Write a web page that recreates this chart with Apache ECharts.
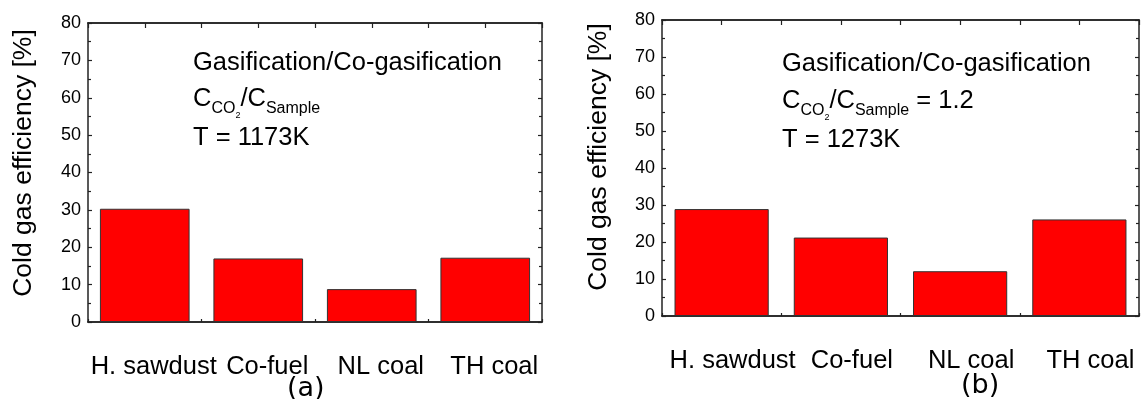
<!DOCTYPE html>
<html>
<head>
<meta charset="utf-8">
<script src="https://cdn.jsdelivr.net/npm/echarts@6/dist/echarts.min.js"></script>
<style>
html,body{margin:0;padding:0;background:#fff;}
#c{width:1141px;height:399px;}
</style>
</head>
<body>
<div id="c"></div>
<script>
const categories = ['H. sawdust', 'Co-fuel', 'NL coal', 'TH coal'];
const efficiencyA = [30.3, 17.0, 8.8, 17.2];
const efficiencyB = [28.9, 21.2, 12.1, 26.1];
const yMin = 0, yMax = 80, yInterval = 10;
const yTitle = 'Cold gas efficiency [%]';
const annA = ['Gasification/Co-gasification', '{c|C}{s|CO}{ss|2}{c|/C}{s|Sample}', 'T = 1173K'];
const annB = ['Gasification/Co-gasification', '{c|C}{s|CO}{ss|2}{c|/C}{s|Sample}{c| = 1.2}', 'T = 1273K'];
const panelLabels = ['(a)', '(b)'];

const FONT = 'Liberation Sans, Arial, sans-serif';
const AX = '#222';
const BIG = 25.5;
const grids = [
  {left: 88, top: 23, width: 454, height: 299},
  {left: 662, top: 20, width: 477, height: 296}
];

function xAxes(gi, padL) {
  const base = {type: 'category', data: categories, gridIndex: gi,
    axisLine: {show: true, lineStyle: {color: AX, width: 1.5}}, splitLine: {show: false}};
  return [
    Object.assign({}, base, {position: 'bottom',
      axisTick: {show: true, inside: true, alignWithLabel: true, length: 5, lineStyle: {color: AX, width: 1.2}},
      axisLabel: {show: true, interval: 0, hideOverlap: false, margin: 32, padding: [0, 0, 0, padL],
        color: '#000', fontSize: BIG, fontFamily: FONT}}),
    Object.assign({}, base, {position: 'bottom',
      axisTick: {show: true, inside: true, length: 3, lineStyle: {color: AX, width: 1.2}},
      axisLabel: {show: false}}),
    Object.assign({}, base, {position: 'top',
      axisTick: {show: true, inside: true, alignWithLabel: true, length: 5, lineStyle: {color: AX, width: 1.2}},
      axisLabel: {show: false}}),
    Object.assign({}, base, {position: 'top',
      axisTick: {show: true, inside: true, length: 5, lineStyle: {color: AX, width: 1.2}},
      axisLabel: {show: false}})
  ];
}
function yAxes(gi) {
  const base = {type: 'value', gridIndex: gi, min: yMin, max: yMax, interval: yInterval,
    axisLine: {show: true, lineStyle: {color: AX, width: 1.5}}, splitLine: {show: false},
    axisTick: {show: true, inside: true, length: 4, lineStyle: {color: AX, width: 1.2}},
    minorTick: {show: true, splitNumber: 2, length: 3, lineStyle: {color: AX, width: 1.2}}};
  return [
    Object.assign({}, base, {position: 'left',
      axisLabel: {show: true, color: '#000', fontSize: 18, fontFamily: FONT, margin: 7}}),
    Object.assign({}, base, {position: 'right', axisLabel: {show: false}})
  ];
}

const xs = xAxes(0, 18).concat(xAxes(1, 22));
const ys = yAxes(0).concat(yAxes(1));

const richStyles = {
  c: {fontSize: BIG, fontFamily: FONT, color: '#000', lineHeight: 32, verticalAlign: 'middle'},
  s: {fontSize: 16, fontFamily: FONT, color: '#000', lineHeight: 16, verticalAlign: 'bottom', padding: [0, 0, -2, 0]},
  ss: {fontSize: 9, fontFamily: FONT, color: '#000', lineHeight: 9, verticalAlign: 'bottom', padding: [0, 0, -5, 0]}
};
function ann(lines, x, ys_) {
  return lines.map((t, i) => ({
    type: 'text', left: x, top: ys_[i],
    style: {text: t, fontSize: BIG, fontFamily: FONT, fill: '#000', rich: richStyles}
  }));
}
function yName(x, y) {
  return {type: 'text', x: x, y: y, rotation: Math.PI / 2,
    style: {text: yTitle, fontSize: 26.5, fontFamily: FONT, fill: '#000', align: 'center', verticalAlign: 'middle'}};
}

const barStyle = {color: '#ff0000', borderColor: '#333', borderWidth: 1};

const option = {
  animation: false,
  backgroundColor: '#fff',
  grid: grids,
  xAxis: xs,
  yAxis: ys,
  series: [
    {type: 'bar', xAxisIndex: 0, yAxisIndex: 0, data: efficiencyA, barWidth: '79%', itemStyle: barStyle},
    {type: 'bar', xAxisIndex: 4, yAxisIndex: 2, data: efficiencyB, barWidth: '79%', itemStyle: barStyle}
  ],
  graphic: [].concat(
    ann(annA, 193, [50, 86, 125]),
    ann(annB, 782, [51, 88, 127]),
    [
      yName(24, 163),
      yName(599, 157),
      {type: 'text', left: 287, top: 375, style: {text: panelLabels[0], fontSize: 27, fontFamily: 'DejaVu Sans', fill: '#000'}},
      {type: 'text', left: 961, top: 372, style: {text: panelLabels[1], fontSize: 27, fontFamily: 'DejaVu Sans', fill: '#000'}}
    ]
  )
};
const chart = echarts.init(document.getElementById('c'), null, {renderer: 'canvas'});
chart.setOption(option);
</script>
</body>
</html>
